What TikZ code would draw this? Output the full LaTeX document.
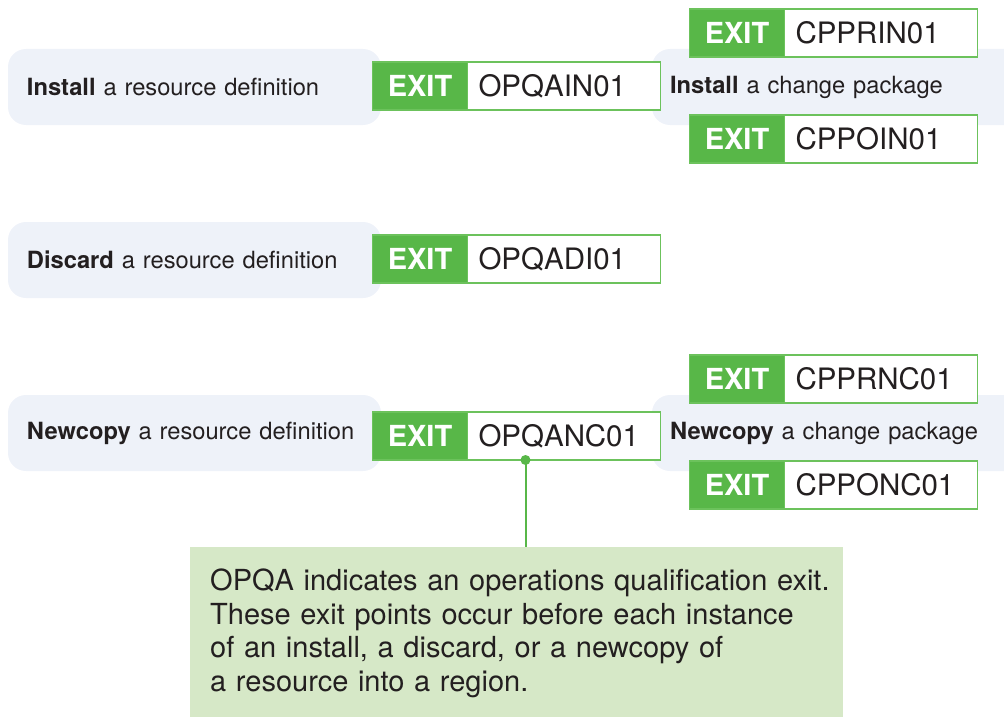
\documentclass[tikz,border=0pt]{standalone}
\usepackage{fontspec}
\setmainfont{TeX Gyre Heros}
\usetikzlibrary{positioning}

\definecolor{exitgreen}{RGB}{88,183,72}
\definecolor{exitline}{RGB}{108,194,92}
\definecolor{taskblue}{RGB}{238,242,249}
\definecolor{notegreen}{RGB}{214,232,199}
\definecolor{inktext}{RGB}{35,31,32}

\begin{document}
\begin{tikzpicture}[x=1pt,y=-1pt,
    task/.style={fill=taskblue, rounded corners=18pt, inner ysep=0pt, inner xsep=19pt,
        minimum height=76pt, text width=335pt, align=left, text=inktext,
        font=\fontsize{23.7}{28}\selectfont},
    exitlbl/.style={fill=exitgreen, draw=exitline, line width=1.5pt, outer sep=0pt,
        minimum width=95pt, minimum height=48pt, inner sep=0pt, text=white,
        font=\bfseries\fontsize{29}{32}\selectfont},
    exitcode/.style={fill=white, draw=exitline, line width=1.5pt, outer sep=0pt,
        minimum height=48pt, inner ysep=0pt, inner xsep=11pt, text width=171pt,
        align=left, text=inktext, font=\fontsize{29.5}{32}\selectfont}]

    \useasboundingbox (0,0) rectangle (1004,717);
    \clip (0,0) rectangle (1004,717);

    % Tasks
    \node[task] (inst) at (194.5,87) {\textbf{Install} a resource definition};
    \node[task] (disc) at (194.5,260) {\textbf{Discard} a resource definition};
    \node[task] (newc) at (194.5,433) {\textbf{Newcopy} a resource definition};
    \node[task, text width=380pt, inner xsep=18pt] (instcp) at (860,87) {\textbf{Install} a change package};
    \node[task, text width=380pt, inner xsep=18pt] (newccp) at (860,433) {\textbf{Newcopy} a change package};

    % Exits
    \node[exitlbl] (ain) at (420,86) {EXIT};
    \node[exitcode, right=0pt of ain] (aincode) {OPQAIN01};
    \node[exitlbl] (adi) at (420,259) {EXIT};
    \node[exitcode, right=0pt of adi] (adicode) {OPQADI01};
    \node[exitlbl] (anc) at (420,436) {EXIT};
    \node[exitcode, right=0pt of anc] (anccode) {OPQANC01};

    \node[exitlbl] (rin) at (737,33) {EXIT};
    \node[exitcode, right=0pt of rin] (rincode) {CPPRIN01};
    \node[exitlbl] (oin) at (737,139) {EXIT};
    \node[exitcode, right=0pt of oin] (oincode) {CPPOIN01};
    \node[exitlbl] (rnc) at (737,379) {EXIT};
    \node[exitcode, right=0pt of rnc] (rnccode) {CPPRNC01};
    \node[exitlbl] (onc) at (737,485) {EXIT};
    \node[exitcode, right=0pt of onc] (onccode) {CPPONC01};

    % Note
    \node[fill=notegreen, anchor=north west, inner sep=0pt,
        minimum width=653pt, minimum height=175pt] (note) at (190,547) {};
    \node[anchor=north west, inner sep=0pt, text width=640pt, align=left, text=inktext,
        font=\fontsize{29}{33.5}\selectfont] (notetext) at (210,569)
        {OPQA indicates an operations qualification exit.\\
         These exit points occur before each instance\\
         of an install, a discard, or a newcopy of\\
         a resource into a region.};

    \coordinate (tap) at ([xshift=58pt]anccode.south west);
    \draw[exitgreen, line width=2pt] (tap) -- (tap |- note.north);
    \fill[exitgreen] (tap) circle (5);
\end{tikzpicture}
\end{document}
